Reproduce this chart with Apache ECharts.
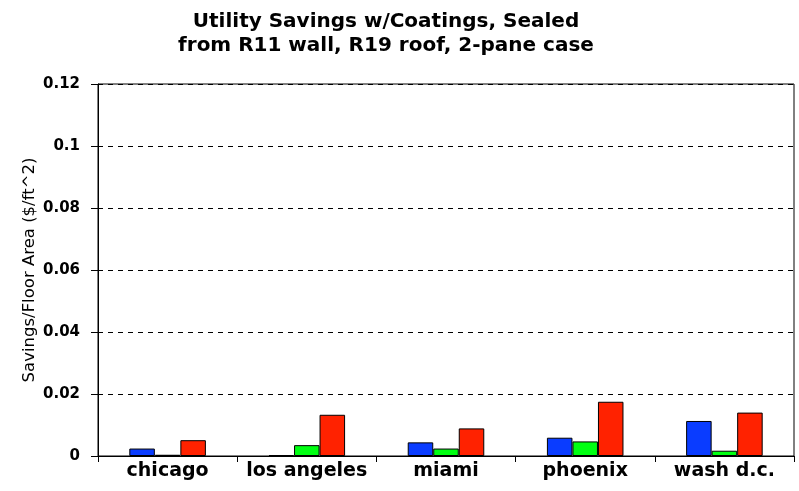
<!DOCTYPE html>
<html>
<head>
<meta charset="utf-8">
<script src="https://cdn.jsdelivr.net/npm/echarts@6/dist/echarts.min.js"></script>
<style>
  html, body { margin: 0; padding: 0; background: #fff; }
  #main { width: 799px; height: 491px; }
</style>
</head>
<body>
<div id="main"></div>
<script>
// 城市分类
var cities = ["chicago", "los angeles", "miami", "phoenix", "wash d.c."];
// 三组数据（蓝/绿/红）
var blueVals = [0.0024, 0.0003, 0.0044, 0.0059, 0.0113];
var greenVals = [0.0004, 0.0035, 0.0024, 0.0047, 0.0017];
var redVals = [0.0051, 0.0133, 0.0089, 0.0175, 0.014];
var yTicks = [0, 0.02, 0.04, 0.06, 0.08, 0.1, 0.12];

var myChart = echarts.init(document.getElementById("main"));
var font = "DejaVu Sans, Verdana, sans-serif";

function barSeries(name, data, color) {
  return {
    name: name,
    type: "bar",
    data: data,
    barGap: "0%",
    barCategoryGap: "45%",
    itemStyle: {
      color: color,
      borderColor: "#000",
      borderWidth: 1
    }
  };
}

myChart.setOption({
  animation: false,
  title: {
    text: "Utility Savings w/Coatings, Sealed\nfrom R11 wall, R19 roof, 2-pane case",
    left: 381,
    textAlign: "center",
    top: 5,
    textStyle: {
      fontFamily: font,
      fontSize: 20,
      fontWeight: "bold",
      color: "#000",
      lineHeight: 24
    }
  },
  grid: {
    left: 98,
    right: 5,
    top: 84,
    bottom: 35,
    show: true,
    borderColor: "#000",
    borderWidth: 1
  },
  xAxis: {
    type: "category",
    data: cities,
    axisLine: { lineStyle: { color: "#000", width: 1 } },
    axisTick: { show: true, length: 6, lineStyle: { color: "#000" } },
    axisLabel: {
      interval: 0,
      hideOverlap: false,
      fontFamily: font,
      fontSize: 19,
      fontWeight: "bold",
      color: "#000",
      margin: 6
    }
  },
  yAxis: {
    type: "value",
    min: 0,
    max: 0.12,
    interval: 0.02,
    name: "Savings/Floor Area ($/ft^2)",
    nameLocation: "middle",
    nameGap: 60,
    nameMoveOverlap: false,
    nameTextStyle: {
      fontFamily: font,
      fontSize: 16.5,
      color: "#000"
    },
    axisLine: { show: true, lineStyle: { color: "#000", width: 1 } },
    axisTick: { show: true, length: 7, lineStyle: { color: "#000" } },
    axisLabel: {
      fontFamily: font,
      fontSize: 15,
      fontWeight: "bold",
      color: "#000",
      margin: 18,
      formatter: function (v) {
        var idx = yTicks.indexOf(Math.round(v * 100) / 100);
        return idx >= 0 ? String(yTicks[idx]) : "";
      }
    },
    splitLine: {
      show: true,
      lineStyle: { color: "#000", type: [5, 5], width: 1 }
    }
  },
  series: [
    barSeries("blue", blueVals, "#0a3cff"),
    barSeries("green", greenVals, "#00ff12"),
    barSeries("red", redVals, "#ff2200")
  ]
});
</script>
</body>
</html>
